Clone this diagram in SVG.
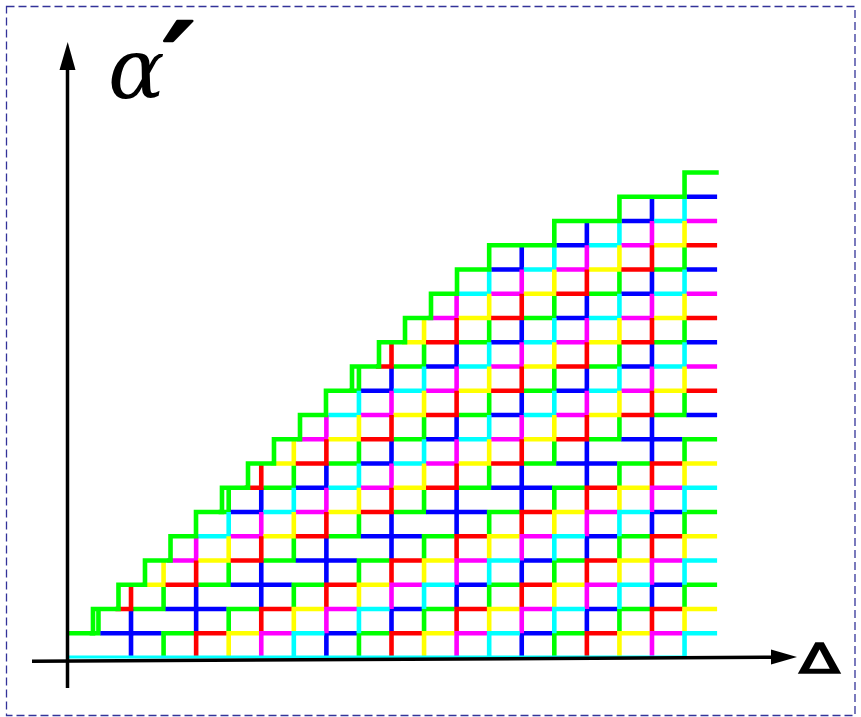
<svg xmlns="http://www.w3.org/2000/svg" width="861" height="717" viewBox="0 0 861 717">
<style>
.ln{fill:none;stroke-width:4.6;stroke-linejoin:miter;stroke-linecap:butt;vector-effect:non-scaling-stroke}
.r{stroke:#ff0000}.y{stroke:#ffff00}.m{stroke:#ff00ff}.c{stroke:#00ffff}.b{stroke:#0000ff}.g{stroke:#00ff00}
.ax{stroke:#000;stroke-width:3.5;fill:none}
</style>
<rect id="frame" x="6.5" y="6.5" width="848.5" height="709" fill="none" stroke="#333399" stroke-width="1.3" stroke-dasharray="8 4"/>
<g id="grid" transform="translate(65.9 657.5) scale(32.56 -24.25)">
<g id="upper">
<path class="ln g" d="M0.73 1H1V2M2.06 2H3V3M4.06 3H5V4M6.06 4H7V5M8.06 5H9V6M4.69 6H5V7M10.06 6H11V7M6.06 7H7V8M12.06 7H13V8M8.06 8H9V9M14.06 8H15V9M10.06 9H11V10M16.06 9H17V10M12.06 10H13V11M18.06 10H19V11M8.69 11H9V12M14.06 11H15V12M10.06 12H11V13M16.06 12H17V13M12.06 13H13V14M18.06 13H19V14M14.06 14H15V15M16.06 15H17V16M18.06 16H19V17"/>
<path class="ln b" d="M1.06 1H2V2M3.06 2H4V3M5.06 3H6V4M7.06 4H8V5M9.06 5H10V6M5.06 6H6V7M11.06 6H12V7M7.06 7H8V8M13.06 7H14V8M9.06 8H10V9M15.06 8H16V9M11.06 9H12V10M17.06 9H18V10M13.06 10H14V11M19.06 10H20M9.06 11H10V12M15.06 11H16V12M11.06 12H12V13M17.06 12H18V13M13.06 13H14V14M19.06 13H20M15.06 14H16V15M17.06 15H18V16M13.06 16H14V17M19.06 16H20M15.06 17H16V18M17.06 18H18V19M19.06 19H20"/>
<path class="ln c" d="M4.06 5H5V6M6.06 6H7V7M8.06 7H9V8M10.06 8H11V9M12.06 9H13V10M8.06 10H9V11M14.06 10H15V11M10.06 11H11V12M16.06 11H17V12M12.06 12H13V13M18.06 12H19V13M14.06 13H15V14M16.06 14H17V15M12.06 15H13V16M18.06 15H19V16M14.06 16H15V17M16.06 17H17V18M18.06 18H19V19"/>
<path class="ln m" d="M3.11 4H4V5M5.06 5H6V6M7.06 6H8V7M9.06 7H10V8M11.06 8H12V9M7.09 9H8V10M13.06 9H14V10M9.06 10H10V11M15.06 10H16V11M11.06 11H12V12M17.06 11H18V12M13.06 12H14V13M19.06 12H20M15.06 13H16V14M11.11 14H12V15M17.06 14H18V15M13.06 15H14V16M19.06 15H20M15.06 16H16V17M17.06 17H18V18M19.06 18H20"/>
<path class="ln y" d="M2.33 3H3V4M4.06 4H5V5M6.06 5H7V6M8.06 6H9V7M10.06 7H11V8M6.29 8H7V9M12.06 8H13V9M8.06 9H9V10M14.06 9H15V10M10.06 10H11V11M16.06 10H17V11M12.06 11H13V12M18.06 11H19V12M14.06 12H15V13M10.32 13H11V14M16.06 13H17V14M12.06 14H13V15M18.06 14H19V15M14.06 15H15V16M16.06 16H17V17M18.06 17H19V18"/>
<path class="ln r" d="M1.52 2H2V3M3.06 3H4V4M5.06 4H6V5M7.06 5H8V6M9.06 6H10V7M5.49 7H6V8M11.06 7H12V8M7.06 8H8V9M13.06 8H14V9M9.06 9H10V10M15.06 9H16V10M11.06 10H12V11M17.06 10H18V11M13.06 11H14V12M19.06 11H20M9.52 12H10V13M15.06 12H16V13M11.06 13H12V14M17.06 13H18V14M13.06 14H14V15M19.06 14H20M15.06 15H16V16M17.06 16H18V17M19.06 17H20"/>
</g>
<g id="lower">
<path class="ln b" d="M2 0V1H2.94M8 0V1H8.94M14 0V1H14.94M4 1V2H4.94M10 1V2H10.94M16 1V2H16.94M6 2V3H6.94M12 2V3H12.94M18 2V3H18.94M8 3V4H8.94M14 3V4H14.94M10 4V5H10.94M16 4V5H16.94M12 5V6H12.94M18 5V6H18.94M14 6V7H14.94M16 7V8H16.94M18 8V9H18.94"/>
<path class="ln g" d="M3 0V1H3.94M9 0V1H9.94M15 0V1H15.94M5 1V2H5.94M11 1V2H11.94M17 1V2H17.94M7 2V3H7.94M13 2V3H13.94M19 2V3H20M9 3V4H9.94M15 3V4H15.94M11 4V5H11.94M17 4V5H17.94M13 5V6H13.94M19 5V6H20M15 6V7H15.94M17 7V8H17.94M19 8V9H20"/>
<path class="ln r" d="M4 0V1H4.94M10 0V1H10.94M16 0V1H16.94M6 1V2H6.94M12 1V2H12.94M18 1V2H18.94M8 2V3H8.94M14 2V3H14.94M10 3V4H10.94M16 3V4H16.94M12 4V5H12.94M18 4V5H18.94M14 5V6H14.94M16 6V7H16.94M18 7V8H18.94"/>
<path class="ln y" d="M5 0V1H5.94M11 0V1H11.94M17 0V1H17.94M7 1V2H7.94M13 1V2H13.94M19 1V2H20M9 2V3H9.94M15 2V3H15.94M11 3V4H11.94M17 3V4H17.94M13 4V5H13.94M19 4V5H20M15 5V6H15.94M17 6V7H17.94M19 7V8H20"/>
<path class="ln m" d="M6 0V1H6.94M12 0V1H12.94M18 0V1H18.94M8 1V2H8.94M14 1V2H14.94M10 2V3H10.94M16 2V3H16.94M12 3V4H12.94M18 3V4H18.94M14 4V5H14.94M16 5V6H16.94M18 6V7H18.94"/>
<path class="ln c" d="M7 0V1H7.94M13 0V1H13.94M19 0V1H20M9 1V2H9.94M15 1V2H15.94M11 2V3H11.94M17 2V3H17.94M13 3V4H13.94M19 3V4H20M15 4V5H15.94M17 5V6H17.94M19 6V7H20"/>
</g>
<path id="boundary" class="ln g" d="M0.034 1H0.832V2H1.615V3H2.429V4H3.213V5H3.996V6H4.794V7H5.593V8H6.391V9H7.19V10H7.988V11H8.787V12H9.616V13H10.415V14H11.213V15H12.012V16H13V17H15V18H17V19H19V20H20.05"/>
</g>
<g id="axes">
<line class="c" x1="67" y1="657" x2="685" y2="657" stroke-width="3"/>
<line class="ax" x1="67.5" y1="688" x2="67.5" y2="66"/>
<polygon points="67.7,42 59.5,70 75.5,70" fill="#000"/>
<line class="ax" x1="32" y1="661.3" x2="775" y2="657.2"/>
<polygon points="797,657 771,649.5 771,664.5" fill="#000"/>
</g>
<g id="labels">
<text x="108" y="98" font-family="DejaVu Serif, serif" font-style="italic" font-size="84" fill="#000">α</text>
<text x="164" y="102" font-family="DejaVu Serif, serif" font-weight="bold" font-style="italic" font-size="110" fill="#000" stroke="#000" stroke-width="2.5" stroke-linejoin="round">′</text>
<text transform="translate(799 673) scale(1.5 1)" font-family="DejaVu Sans, sans-serif" font-size="40" fill="#000" stroke="#000" stroke-width="1.6">Δ</text>
</g>
</svg>
